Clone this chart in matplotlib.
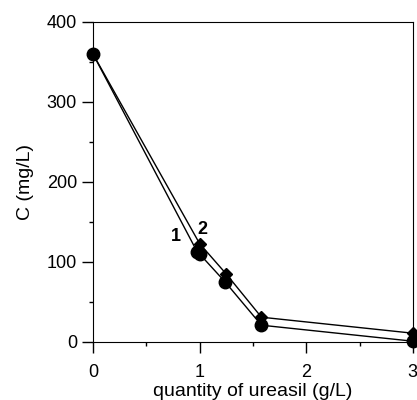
import matplotlib.pyplot as plt
from matplotlib.ticker import MultipleLocator

plt.rcParams['font.family'] = ['Liberation Sans', 'DejaVu Sans']

# series 1 (circles) and series 2 (diamonds)
dose_1 = [0, 0.98, 1.0, 1.24, 1.58, 3.0]
conc_1 = [360, 112, 110, 75, 21, 1]
dose_2 = [0, 1.0, 1.25, 1.58, 3.0]
conc_2 = [360, 123, 85, 31, 11]

fig = plt.figure(figsize=(4.17, 4.0), dpi=100)
ax = fig.add_axes([0.223, 0.145, 0.767, 0.80])

ax.plot(dose_2, conc_2, color='black', lw=1, marker='D', ms=6, clip_on=False, zorder=3)
ax.plot(dose_1, conc_1, color='black', lw=1, marker='o', ms=9, clip_on=False, zorder=3)

ax.text(0.78, 132, '1', fontsize=13, fontweight='bold', ha='center', va='center')
ax.text(1.03, 141, '2', fontsize=13, fontweight='bold', ha='center', va='center')

ax.set_xlim(0, 3)
ax.set_ylim(0, 400)
ax.xaxis.set_major_locator(MultipleLocator(1))
ax.xaxis.set_minor_locator(MultipleLocator(0.5))
ax.yaxis.set_major_locator(MultipleLocator(100))
ax.yaxis.set_minor_locator(MultipleLocator(50))
ax.tick_params(which='both', direction='out', labelsize=13, width=1)
ax.tick_params(which='major', length=8)
ax.tick_params(which='minor', length=3)
ax.tick_params(axis='x', which='major', pad=8)
ax.set_xlabel('quantity of ureasil (g/L)', fontsize=14, labelpad=1)
ax.set_ylabel('C (mg/L)', fontsize=14, labelpad=9)

fig.savefig('out.png', dpi=100)
